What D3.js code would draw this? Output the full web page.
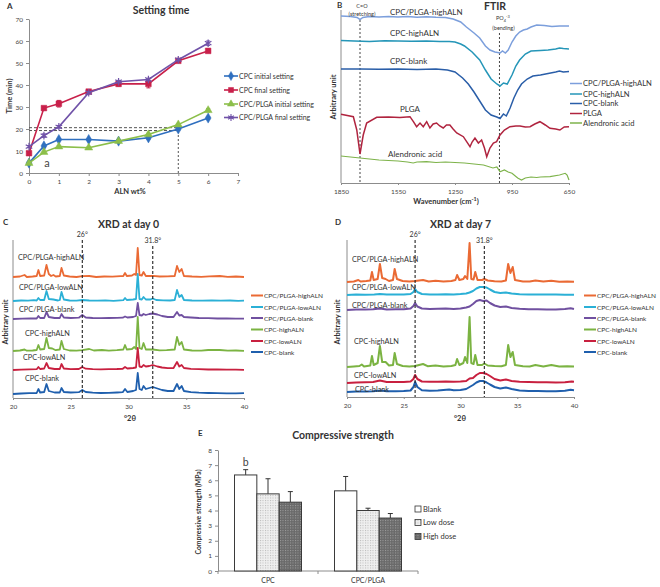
<!DOCTYPE html>
<html><head><meta charset="utf-8">
<script src="https://cdn.jsdelivr.net/npm/d3@7"></script>
<style>body{margin:0;background:#fff}svg{display:block}text{font-family:Lato,"Open Sans",sans-serif}</style>
</head><body><svg id="c" width="660" height="587"></svg>
<script>
// ===== Panel A: setting time =====
const alnWt = [0,0.5,1,2,3,4,5,6];
const settingNames = ["CPC initial setting","CPC final setting","CPC/PLGA initial setting","CPC/PLGA final setting"];
const cpcInitial = [4.5,12.3,15.2,15.2,14.5,16,20,25];
const cpcFinal = [9,29.5,31.5,37,40.5,40.5,51,55.5];
const plgaInitial = [4.5,9.5,12,11.5,14.5,17.5,22,28.5];
const plgaFinal = [12,17,21,36.5,41.5,42.5,51.5,59];
const cpcInitialErr = [0.3,0.5,0.5,0.4,0.4,0.6,0.5,0.5];
const cpcFinalErr = [0.5,0.6,1.5,0.8,1,1.8,0.8,0.8];
const plgaInitialErr = [0.3,0.4,0.4,0.4,0.4,0.5,0.5,0.8];
const plgaFinalErr = [0.5,0.8,0.6,0.5,0.6,0.6,0.6,1];
const settingTicksY = [0,10,20,30,40,50,60,70];
const settingTicksX = [0,1,2,3,4,5,6,7];
const refTimes = [19.3,20.6];
const refWt = 5;

// ===== Panel B: FTIR =====
const ftirNames = ["CPC/PLGA-highALN","CPC-highALN","CPC-blank","PLGA","Alendronic acid"];
const ftirPlgaHigh = [[1850,167],[1800,166.5],[1765,165.5],[1750,163.5],[1735,165.5],[1700,166.5],[1650,166],[1600,166.5],[1550,166],[1500,166.5],[1450,165.8],[1400,166.2],[1350,165.7],[1300,165.5],[1260,164],[1220,161],[1190,156],[1150,150],[1120,145],[1090,137],[1066,133],[1040,131],[1013,130],[1000,132],[985,130],[970,133],[950,141],[930,147],[910,151],[890,153],[870,154],[850,156],[820,158],[780,157.5],[740,156.5],[700,157],[650,157]];
const ftirCpcHigh = [[1850,142.5],[1780,142],[1700,141.5],[1620,142.2],[1550,142],[1480,141.7],[1400,142],[1330,141.5],[1280,141.5],[1250,141],[1220,139],[1200,137],[1160,131],[1120,123],[1090,113],[1060,104],[1030,99],[1013,97],[995,100],[975,99],[950,108],[930,117],[910,123],[880,129],[850,132],[800,132.5],[760,133],[720,134],[700,135],[680,134.5],[650,134]];
const ftirCpcBlank = [[1850,114],[1750,114],[1650,113.7],[1550,114],[1450,113.5],[1350,114],[1290,113],[1250,111],[1210,105],[1180,99],[1150,91],[1120,82],[1090,73],[1060,68],[1030,66],[1013,64.5],[995,69],[980,67],[960,75],[940,85],[920,93],[900,99],[870,104],[840,107],[800,108],[760,109.5],[720,111],[700,112],[680,111],[650,111.5]];
const ftirPlga = [[1850,68.7],[1785,66.3],[1767,53],[1750,29],[1733,48],[1715,60],[1662,65.7],[1600,66],[1540,65.5],[1487,66.3],[1469,61.3],[1452,56.3],[1434,60],[1417,56.3],[1399,61.3],[1382,55],[1365,59],[1347,60],[1330,57],[1312,55],[1295,58],[1277,58],[1260,54],[1241,50],[1206,46.3],[1171,36.3],[1160,41],[1145,45],[1127,40],[1110,43],[1095,35],[1083,26.3],[1066,35],[1048,40],[1031,41.3],[1013,48],[990,53],[961,56.3],[930,57],[908,57],[880,56],[855,56.3],[830,59],[803,61.3],[775,58],[750,54.7],[720,54],[698,53],[675,56],[650,56.3]];
const ftirAln = [[1850,27],[1800,26],[1750,25],[1700,24],[1650,23],[1600,22.5],[1550,22],[1500,21],[1470,20],[1450,21],[1400,21.3],[1350,20.5],[1300,21],[1250,20.5],[1200,20],[1150,19],[1100,18],[1050,15],[1030,16],[1013,11.3],[990,13],[970,11],[950,9.7],[920,5],[900,3],[880,5],[850,6],[820,5.5],[800,6],[750,6.3],[700,8],[670,9.7],[660,8],[650,3]];
const ftirTicks = [1850,1550,1250,950,650];
const ftirMarks = [1750,1016];

// ===== Panels C & D: XRD =====
const xrdNames = ["CPC/PLGA-highALN","CPC/PLGA-lowALN","CPC/PLGA-blank","CPC-highALN","CPC-lowALN","CPC-blank"];
const xrdTicks = [20,25,30,35,40];
const xrdMarks = [26,32.1];
const xrdOffsetDay0 = [121,97,79,47,28,4];
const xrdOffsetDay7 = [115,102,87,30,14,5];
const d0PlgaHigh = [[20,0],[20.6,0.5],[21,2],[21.2,0],[21.7,0.5],[22.05,1],[22.2,7],[22.35,1],[22.7,1.5],[22.9,12],[23.1,3],[23.3,1],[23.5,2],[23.7,0.5],[24.05,1],[24.2,9],[24.4,1.5],[24.9,0.5],[25.5,0],[26,0.8],[26.6,1],[27.2,0],[27.9,0.5],[28.6,0.3],[29.3,0.8],[29.55,1],[29.7,4],[29.85,1],[30.3,1.5],[30.5,3],[30.65,2],[30.8,29],[30.95,2],[31.15,1.5],[31.3,5],[31.5,1],[32.1,1.2],[32.7,0.5],[33.4,0.6],[34,1],[34.2,11],[34.4,5],[34.6,8],[34.8,1],[35.5,0.5],[36.3,0.2],[37,0.6],[37.9,1],[38.6,0.2],[39.3,0.5],[40,0]];
const d0PlgaLow = [[20,0],[20.7,0.5],[21.3,0.3],[21.8,0.8],[22.05,0.5],[22.2,3],[22.35,1],[22.7,1],[22.9,10],[23.1,2],[23.5,1.5],[23.9,0.5],[24.05,1],[24.2,9],[24.4,1.5],[24.9,0.5],[25.5,0.3],[26,1],[26.6,0.5],[27.3,0.3],[28,0.6],[28.7,0.2],[29.3,0.7],[29.55,0.8],[29.7,3],[29.85,1],[30.4,1.5],[30.65,2],[30.8,27],[30.95,2],[31.15,1.5],[31.3,4],[31.5,1.5],[31.9,1.5],[32.1,2.5],[32.4,1],[33,0.6],[33.6,0.5],[34,1],[34.2,11],[34.4,4],[34.6,6],[34.8,1],[35.5,0.5],[36.4,0.3],[37.2,0.6],[38,0.3],[38.8,0.5],[39.5,0.2],[40,0.3]];
const d0PlgaBlank = [[20,0],[20.8,0.3],[21.5,0.5],[22.05,0.5],[22.2,3],[22.35,1],[22.7,1],[22.9,7],[23.1,2],[23.6,1],[24.05,1],[24.2,5],[24.4,1.5],[25,1],[25.7,1.3],[26,4],[26.3,1.5],[26.9,1],[27.6,0.8],[28.3,1],[29,1.2],[29.5,1.3],[29.7,2.5],[29.9,1.5],[30.4,2],[30.65,3],[30.8,16],[30.95,4],[31.15,3.5],[31.3,5],[31.5,4],[31.8,5],[32.1,5.5],[32.5,4.5],[32.9,3],[33.4,2],[33.9,2],[34.2,7],[34.4,3.5],[34.6,4],[34.8,2],[35.4,1.5],[36.1,1],[36.9,0.8],[37.7,0.5],[38.5,0.6],[39.3,0.3],[40,0.3]];
const d0CpcHigh = [[20,0],[20.6,0.5],[21,1.5],[21.2,0.3],[21.7,0.5],[22.05,1],[22.2,6],[22.35,1.5],[22.7,2],[22.9,13],[23.1,3],[23.4,2.5],[23.7,0.8],[24.05,1.5],[24.2,10],[24.4,2],[24.9,0.5],[25.5,0.3],[26,0.8],[26.6,2],[27,0.5],[27.7,1],[28.3,0.4],[29,0.8],[29.55,1.5],[29.7,6],[29.85,1.5],[30.3,2],[30.5,4],[30.65,2],[30.8,34],[30.95,3],[31.15,2],[31.3,8],[31.5,1.5],[32.1,1.5],[32.7,0.6],[33.3,0.8],[34,1.5],[34.2,14],[34.4,6],[34.6,9],[34.8,1.5],[35.5,0.5],[36.3,0.3],[36.9,1],[37.9,1],[38.6,0.3],[39.3,0.5],[40,0.2]];
const d0CpcLow = [[20,0],[20.7,0.4],[21.4,0.6],[22.05,0.8],[22.2,3],[22.35,1],[22.7,1.5],[22.9,7],[23.1,2],[23.6,1],[24.05,1],[24.2,6],[24.4,1.5],[25,0.8],[25.7,1],[26,3],[26.3,1.3],[26.9,0.8],[27.6,0.6],[28.3,0.9],[29,1],[29.5,1.2],[29.7,3],[29.9,1.5],[30.4,2],[30.65,2.5],[30.8,22],[30.95,3.5],[31.15,3],[31.3,5],[31.5,3.5],[31.8,4],[32.1,5],[32.5,3.5],[32.9,2.5],[33.4,1.8],[33.9,2],[34.2,8],[34.4,3.5],[34.6,5],[34.8,2],[35.4,1.2],[36.1,0.8],[36.9,0.5],[37.7,0.5],[38.5,0.4],[39.3,0.3],[40,0.2]];
const d0CpcBlank = [[20,0],[20.7,0.5],[21.4,0.8],[22.05,1],[22.2,5],[22.35,1.5],[22.7,2],[22.9,10],[23.1,3],[23.6,1.5],[24.05,1.5],[24.2,6],[24.4,2],[25,1.5],[25.7,1.8],[26,4],[26.3,2],[26.9,1.3],[27.6,1],[28.3,1.2],[29,1.5],[29.5,1.8],[29.7,5],[29.9,2],[30.4,3],[30.65,4],[30.8,21],[30.95,5],[31.15,4],[31.3,8],[31.5,5],[31.8,6],[32.1,7],[32.5,5.5],[32.9,4],[33.4,3],[33.9,3],[34.2,10],[34.4,5],[34.6,8],[34.8,3],[35.4,1.8],[36.1,1.3],[36.9,1],[37.7,0.8],[38.5,0.6],[39.3,0.6],[40,0.8]];
const d7PlgaHigh = [[20,0],[20.6,0.5],[21,2],[21.2,0.5],[21.7,1],[22.05,1.5],[22.2,10],[22.35,2],[22.7,3],[22.9,18],[23.1,4],[23.4,3],[23.7,1],[24.05,2],[24.2,13],[24.4,3],[24.9,1],[25.5,0.5],[26,1],[26.7,2],[27.2,0.5],[27.8,1.2],[28.5,0.5],[29.2,1],[29.55,2],[29.7,7],[29.9,2],[30.25,3],[30.4,6],[30.6,3],[30.8,39],[30.95,3],[31.15,2.5],[31.3,10],[31.5,2],[31.9,2],[32.1,3],[32.4,1.5],[33,0.8],[33.6,0.6],[34,1.5],[34.2,18],[34.4,9],[34.6,15],[34.8,2],[35.5,0.6],[36.1,0.4],[36.6,1.5],[37.3,0.4],[38,1.2],[38.7,0.3],[39.4,0.5],[40,0.3]];
const d7PlgaLow = [[20,0],[20.8,0.4],[21.6,0.2],[22.4,0.6],[22.9,1],[23.5,0.4],[24.3,0.6],[25,0.5],[25.6,1],[25.85,3],[26,6],[26.2,3],[26.6,1],[27.3,0.6],[28,0.5],[28.7,0.8],[29.4,0.6],[30,1],[30.5,1.5],[30.8,2.5],[31.1,4],[31.4,6.5],[31.7,8],[32,8],[32.3,7.5],[32.6,5.5],[33,3],[33.5,2],[34,2.5],[34.5,1.5],[35.2,0.8],[36,0.5],[36.8,0.6],[37.6,0.4],[38.4,0.5],[39.2,0.3],[40,0.2]];
const d7PlgaBlank = [[20,0],[20.8,0.5],[21.6,0.4],[22.3,0.8],[22.9,1.5],[23.5,0.6],[24.3,0.7],[25,0.8],[25.6,1.5],[25.85,4],[26,7],[26.2,3.5],[26.6,1.5],[27.3,1],[28,1.2],[28.7,1.4],[29.4,1],[30,1.5],[30.5,2.5],[30.8,3.5],[31.1,6],[31.4,9],[31.7,10],[32,9],[32.3,9.5],[32.6,7],[33,4.5],[33.5,3],[34,3.5],[34.5,2],[35.2,1.2],[36,0.8],[36.8,0.8],[37.6,0.5],[38.4,0.6],[39.2,1],[39.7,1.8],[40,1]];
const d7CpcHigh = [[20,0],[20.6,0.5],[21.1,1],[21.3,2.5],[21.5,0.5],[22.05,1.5],[22.2,11],[22.35,2],[22.7,4],[22.9,21],[23.1,5],[23.4,5],[23.7,1.5],[24.05,2],[24.2,14],[24.4,3],[24.9,1],[25.5,0.5],[26,1],[26.7,3],[27.1,0.8],[27.8,1.5],[28.5,0.5],[29.2,1],[29.55,2],[29.7,8],[29.9,2],[30.25,4],[30.4,10],[30.6,4],[30.8,50],[30.95,4],[31.15,3],[31.3,12],[31.5,2],[31.9,2],[32.1,3.5],[32.4,1.5],[33,1],[33.6,0.8],[34,2],[34.2,22],[34.4,10],[34.6,15],[34.8,2],[35.5,0.8],[36.1,0.5],[36.6,2],[37.3,0.6],[38,2],[38.7,0.4],[39.4,0.8],[40,0.6]];
const d7CpcLow = [[20,0],[20.8,0.6],[21.6,0.8],[22.3,1],[22.9,2.5],[23.5,1],[24.3,1],[25,1],[25.6,1.5],[25.85,4],[26,8],[26.2,4],[26.6,1.5],[27.3,1.2],[28,1.3],[28.7,1.5],[29.4,1.2],[30,1.5],[30.5,2],[30.8,4.5],[31.1,5],[31.4,8],[31.7,10],[32,10],[32.3,9],[32.6,7],[33,4],[33.5,2.5],[34,3.5],[34.5,2],[35.2,1.2],[36,1],[36.8,0.8],[37.6,0.8],[38.4,0.6],[39.2,0.8],[39.8,1.5],[40,1.2]];
const d7CpcBlank = [[20,0],[20.8,0.5],[21.6,0.6],[22.3,0.8],[23,1.5],[23.5,0.8],[24.3,0.8],[25,1],[25.6,1.5],[25.85,5],[26,10],[26.2,5],[26.6,1.8],[27.3,1.3],[28,1.5],[28.5,2],[29,2.5],[29.4,1.8],[30,2],[30.5,3],[30.8,5],[31.1,7],[31.4,9.5],[31.7,11],[32,11],[32.3,9.5],[32.6,7.5],[33,5],[33.5,3.5],[34,4.5],[34.5,3],[35.2,1.5],[36,1],[36.8,1],[37.6,0.8],[38.4,0.8],[39.2,1.2],[39.7,2.2],[40,1.8]];

// ===== Panel E: compressive strength =====
const strengthGroups = ["CPC","CPC/PLGA"];
const doses = ["Blank","Low dose","High dose"];
const strengthCPC = [6.35,5.1,4.55];
const strengthPLGA = [5.3,4.0,3.5];
const strengthErrCPC = [0.35,1.0,0.7];
const strengthErrPLGA = [0.95,0.15,0.3];
const strengthTicks = [0,1,2,3,4,5,6,7,8];

// ===================== drawing =====================
const svg = d3.select("#c");
const FONT = "Lato, 'Open Sans', sans-serif";
const AX = "#8c8c8c", TXT = "#333";

function txt(x,y,s,o={}){
  const t = svg.append("text").attr("x",x).attr("y",y).text(s)
    .attr("font-size",o.size||8).attr("fill",o.fill||TXT)
    .attr("font-weight",o.bold?"bold":"normal")
    .attr("text-anchor",o.anchor||"start");
  if(o.rot) t.attr("transform",`rotate(${o.rot},${x},${y})`);
  return t;
}
function styleAxis(g,fs){
  g.attr("font-family",FONT).attr("font-size",fs);
  g.select(".domain").attr("stroke",AX);
  g.selectAll(".tick line").attr("stroke",AX);
  g.selectAll(".tick text").attr("fill","#444");
}

// ---------- Panel A ----------
{
  const x = d3.scaleLinear().domain([0,7]).range([29,238]);
  const y = d3.scaleLinear().domain([0,70]).range([173,19]);
  const gx = svg.append("g").attr("transform","translate(0,173)")
    .call(d3.axisBottom(x).tickValues(settingTicksX).tickSize(3).tickSizeOuter(0).tickPadding(3).tickFormat(d3.format("d")));
  styleAxis(gx,6.5);
  const gy = svg.append("g").attr("transform","translate(29,0)")
    .call(d3.axisLeft(y).tickValues(settingTicksY).tickSize(3).tickSizeOuter(0).tickPadding(3));
  styleAxis(gy,6.5);
  refTimes.forEach(t=>svg.append("line").attr("x1",x(0)).attr("x2",x(refWt)).attr("y1",y(t)).attr("y2",y(t))
    .attr("stroke","#555").attr("stroke-width",1).attr("stroke-dasharray","3,2"));
  svg.append("line").attr("x1",x(refWt)).attr("x2",x(refWt)).attr("y1",y(0)).attr("y2",y(refTimes[1]))
    .attr("stroke","#555").attr("stroke-width",1).attr("stroke-dasharray","2,2");
  const series = [
    {v:cpcInitial,e:cpcInitialErr,c:"#2f6fbf",s:d3.symbolDiamond,sz:30,fill:true},
    {v:cpcFinal,e:cpcFinalErr,c:"#c8204a",s:d3.symbolSquare,sz:32,fill:true},
    {v:plgaInitial,e:plgaInitialErr,c:"#8cbf4a",s:d3.symbolTriangle,sz:28,fill:true},
    {v:plgaFinal,e:plgaFinalErr,c:"#7052a8",s:d3.symbolAsterisk,sz:40,fill:false}
  ];
  const line = d3.line().x((d,i)=>x(alnWt[i])).y(d=>y(d));
  series.forEach(sr=>{
    svg.append("path").datum(sr.v).attr("d",line).attr("fill","none").attr("stroke",sr.c).attr("stroke-width",1.6);
    sr.v.forEach((v,i)=>{
      const xx=x(alnWt[i]);
      svg.append("line").attr("x1",xx).attr("x2",xx).attr("y1",y(v-sr.e[i])).attr("y2",y(v+sr.e[i])).attr("stroke",sr.c).attr("stroke-width",1);
      svg.append("line").attr("x1",xx-2).attr("x2",xx+2).attr("y1",y(v+sr.e[i])).attr("y2",y(v+sr.e[i])).attr("stroke",sr.c).attr("stroke-width",1);
      svg.append("line").attr("x1",xx-2).attr("x2",xx+2).attr("y1",y(v-sr.e[i])).attr("y2",y(v-sr.e[i])).attr("stroke",sr.c).attr("stroke-width",1);
      svg.append("path").attr("d",d3.symbol().type(sr.s).size(sr.sz)()).attr("transform",`translate(${xx},${y(v)})`)
        .attr("fill",sr.fill?sr.c:"none").attr("stroke",sr.c).attr("stroke-width",sr.fill?0.5:1.2);
    });
  });
  const ly=[76,90,104,117.5];
  series.forEach((sr,i)=>{
    svg.append("line").attr("x1",224).attr("x2",238).attr("y1",ly[i]).attr("y2",ly[i]).attr("stroke",sr.c).attr("stroke-width",1.6);
    svg.append("path").attr("d",d3.symbol().type(sr.s).size(sr.sz*0.8)()).attr("transform",`translate(231,${ly[i]})`)
      .attr("fill",sr.fill?sr.c:"none").attr("stroke",sr.c).attr("stroke-width",sr.fill?0.5:1.1);
    txt(239,ly[i]+2.5,settingNames[i],{size:7});
  });
  txt(161,14,"Setting time",{size:10.5,bold:true,anchor:"middle"});
  txt(130,194,"ALN wt%",{size:7.5,bold:true,anchor:"middle"});
  txt(12,96,"Time (min)",{size:7.5,bold:true,anchor:"middle",rot:-90});
  txt(47,167,"a",{size:11,fill:"#444",anchor:"middle"});
  txt(7,9,"A",{size:8,bold:true});
}

// ---------- Panel B ----------
{
  const x = d3.scaleLinear().domain([1850,650]).range([341,569]);
  const y = d3.scaleLinear().domain([0,173]).range([183,10]);
  const gx = svg.append("g").attr("transform","translate(0,183)")
    .call(d3.axisBottom(x).tickValues(ftirTicks).tickSize(2).tickSizeOuter(0).tickPadding(4).tickFormat(d3.format("d")));
  styleAxis(gx,6.5);
  svg.append("line").attr("x1",341).attr("x2",341).attr("y1",10).attr("y2",183).attr("stroke",AX);
  svg.append("line").attr("x1",x(ftirMarks[0])).attr("x2",x(ftirMarks[0])).attr("y1",20).attr("y2",183)
    .attr("stroke","#444").attr("stroke-dasharray","2,2").attr("stroke-width",1);
  svg.append("line").attr("x1",x(ftirMarks[1])).attr("x2",x(ftirMarks[1])).attr("y1",33).attr("y2",183)
    .attr("stroke","#444").attr("stroke-dasharray","2,2").attr("stroke-width",1);
  const cols = ["#7c9fdc","#2596b8","#2a5ea8","#b0243f","#7eb34b"];
  const data = [ftirPlgaHigh,ftirCpcHigh,ftirCpcBlank,ftirPlga,ftirAln];
  const line = d3.line().x(d=>x(d[0])).y(d=>y(d[1]));
  data.forEach((d,i)=>svg.append("path").datum(d).attr("d",line).attr("fill","none").attr("stroke",cols[i]).attr("stroke-width",i==4?1.2:1.5));
  const lbl=[[390,15],[390,36],[390,64],[400,112],[388,157]];
  ftirNames.forEach((n,i)=>txt(lbl[i][0],lbl[i][1],n,{size:8}));
  const ly=[83.5,94,103.5,113.5,123];
  ftirNames.forEach((n,i)=>{
    svg.append("line").attr("x1",570).attr("x2",582).attr("y1",ly[i]).attr("y2",ly[i]).attr("stroke",cols[i]).attr("stroke-width",1.5);
    txt(583,ly[i]+2.8,n,{size:7.6});
  });
  txt(362,7.5,"C=O",{size:5.5,anchor:"middle"});
  txt(362,16,"(stretching)",{size:5.5,anchor:"middle"});
  const po = txt(503,20,"PO",{size:5.5,anchor:"middle"});
  po.append("tspan").attr("font-size",4).attr("dy",1.5).text("4");
  po.append("tspan").attr("font-size",4).attr("dy",-3.5).text("-3");
  txt(503.5,29.5,"(bending)",{size:5.5,anchor:"middle"});
  txt(495,9.5,"FTIR",{size:10.5,bold:true,anchor:"middle"});
  const xl = txt(446,204,"Wavenumber (cm",{size:7.5,bold:true,anchor:"middle"});
  xl.append("tspan").attr("font-size",5.5).attr("dy",-3).text("-1");
  xl.append("tspan").attr("dy",3).text(")");
  txt(336,97,"Arbitrary unit",{size:7.5,bold:true,anchor:"middle",rot:-90});
  txt(337,8,"B",{size:8,bold:true});
}

// ---------- Panels C & D ----------
const xrdCols = ["#ea6a34","#2bb0d6","#7050a0","#7bb342","#c8203f","#1f5fad"];
function drawXRD(p){
  const x = d3.scaleLinear().domain([20,40]).range([p.x0,p.x1]);
  const y = d3.scaleLinear().domain([0,160]).range([p.bot,p.bot-160]);
  const gx = svg.append("g").attr("transform",`translate(0,${p.bot})`)
    .call(d3.axisBottom(x).tickValues(xrdTicks).tickSize(2).tickSizeOuter(0).tickPadding(4));
  styleAxis(gx,6.5);
  svg.append("line").attr("x1",p.x0).attr("x2",p.x0).attr("y1",240).attr("y2",p.bot).attr("stroke",AX);
  const line = d3.line().x(d=>x(d[0])).y(d=>y(d[1]));
  p.data.forEach((d,i)=>{
    const off = p.off[i];
    svg.append("path").datum(d.map(q=>[q[0],q[1]+off])).attr("d",line).attr("fill","none")
      .attr("stroke",xrdCols[i]).attr("stroke-width",p.sw).attr("stroke-linejoin","round");
  });
  svg.append("line").attr("x1",x(xrdMarks[0])).attr("x2",x(xrdMarks[0])).attr("y1",240).attr("y2",p.bot)
    .attr("stroke","#222").attr("stroke-dasharray","3,2").attr("stroke-width",1.1);
  svg.append("line").attr("x1",x(xrdMarks[1])).attr("x2",x(xrdMarks[1])).attr("y1",246).attr("y2",p.bot)
    .attr("stroke","#222").attr("stroke-dasharray","3,2").attr("stroke-width",1.1);
  txt(x(xrdMarks[0]),237,"26°",{size:7,anchor:"middle"});
  txt(x(xrdMarks[1]),243,"31.8°",{size:7,anchor:"middle"});
  xrdNames.forEach((n,i)=>txt(p.lbl[i][0],p.lbl[i][1],n,{size:7.3}));
  const ly=[295.5,307,318,329.5,341,352];
  xrdNames.forEach((n,i)=>{
    svg.append("line").attr("x1",p.lx).attr("x2",p.lx+12).attr("y1",ly[i]).attr("y2",ly[i]).attr("stroke",xrdCols[i]).attr("stroke-width",2);
    txt(p.lx+13,ly[i]+2.5,n,{size:6.5});
  });
  txt((p.x0+p.x1)/2,228,p.title,{size:10.5,bold:true,anchor:"middle"});
  txt(p.xlab,421,"°2θ",{size:7.5,bold:true,anchor:"middle"});
  txt(p.ylx,322,"Arbitrary unit",{size:7.5,bold:true,anchor:"middle",rot:-90});
  txt(p.letx,225,p.letter,{size:8,bold:true});
}
drawXRD({x0:13,x1:244,bot:398,off:xrdOffsetDay0,sw:1.8,
  data:[d0PlgaHigh,d0PlgaLow,d0PlgaBlank,d0CpcHigh,d0CpcLow,d0CpcBlank],
  lbl:[[18,260],[19,290],[19,312],[25,336],[23,360],[25,381]],
  lx:251,title:"XRD at day 0",xlab:130,ylx:8,letx:3,letter:"C"});
drawXRD({x0:347,x1:574,bot:397,off:xrdOffsetDay7,sw:2,
  data:[d7PlgaHigh,d7PlgaLow,d7PlgaBlank,d7CpcHigh,d7CpcLow,d7CpcBlank],
  lbl:[[352,262],[352,289.5],[352,307.5],[354,343.5],[354,377.5],[355,391.5]],
  lx:584,title:"XRD at day 7",xlab:460,ylx:340,letx:335,letter:"D"});

// ---------- Panel E ----------
{
  const defs = svg.append("defs");
  const p1 = defs.append("pattern").attr("id","lowDose").attr("width",2.5).attr("height",2.5).attr("patternUnits","userSpaceOnUse");
  p1.append("rect").attr("width",2.5).attr("height",2.5).attr("fill","#efefef");
  p1.append("rect").attr("width",1).attr("height",1).attr("fill","#b8b8b8");
  const p2 = defs.append("pattern").attr("id","highDose").attr("width",2.5).attr("height",2.5).attr("patternUnits","userSpaceOnUse");
  p2.append("rect").attr("width",2.5).attr("height",2.5).attr("fill","#6a6a6a");
  p2.append("rect").attr("width",1).attr("height",1).attr("fill","#a0a0a0");
  const fills = ["#fff","url(#lowDose)","url(#highDose)"];
  const x0 = d3.scaleBand().domain(strengthGroups).range([218,418]).paddingInner(0.33).paddingOuter(0.165);
  const x1 = d3.scaleBand().domain(doses).range([0,x0.bandwidth()]);
  const y = d3.scaleLinear().domain([0,8]).range([571,450]);
  const gy = svg.append("g").attr("transform","translate(218,0)")
    .call(d3.axisLeft(y).tickValues(strengthTicks).tickSize(3).tickSizeOuter(0).tickPadding(3));
  styleAxis(gy,6.5);
  svg.append("line").attr("x1",218).attr("x2",418).attr("y1",571).attr("y2",571).attr("stroke",AX);
  [218,318,418].forEach(t=>svg.append("line").attr("x1",t).attr("x2",t).attr("y1",571).attr("y2",574).attr("stroke",AX));
  const vals = [strengthCPC,strengthPLGA], errs=[strengthErrCPC,strengthErrPLGA];
  strengthGroups.forEach((g,gi)=>{
    doses.forEach((d,di)=>{
      const bx = x0(g)+x1(d), v=vals[gi][di], e=errs[gi][di];
      const cx = bx+x1.bandwidth()/2;
      svg.append("line").attr("x1",cx).attr("x2",cx).attr("y1",y(v)).attr("y2",y(v+e)).attr("stroke","#333").attr("stroke-width",1);
      svg.append("line").attr("x1",cx-2.5).attr("x2",cx+2.5).attr("y1",y(v+e)).attr("y2",y(v+e)).attr("stroke","#333").attr("stroke-width",1);
      svg.append("rect").attr("x",bx).attr("y",y(v)).attr("width",x1.bandwidth()).attr("height",y(0)-y(v))
        .attr("fill",fills[di]).attr("stroke","#3a3a3a").attr("stroke-width",1);
    });
    txt(x0(g)+x0.bandwidth()/2,583,g,{size:7,anchor:"middle"});
  });
  const ly=[509,522.5,536.5];
  doses.forEach((d,i)=>{
    svg.append("rect").attr("x",415).attr("y",ly[i]-3).attr("width",6).attr("height",6).attr("fill",fills[i]).attr("stroke","#333").attr("stroke-width",0.8);
    txt(423,ly[i]+2.8,d,{size:7.5});
  });
  txt(x0("CPC")+x1("Blank")+x1.bandwidth()/2,466,"b",{size:10.5,fill:"#444",anchor:"middle"});
  txt(343,439,"Compressive strength",{size:10.5,bold:true,anchor:"middle"});
  txt(201,512,"Compressive strength (MPa)",{size:6.8,bold:true,anchor:"middle",rot:-90});
  txt(198,436,"E",{size:8,bold:true});
}
</script></body></html>
